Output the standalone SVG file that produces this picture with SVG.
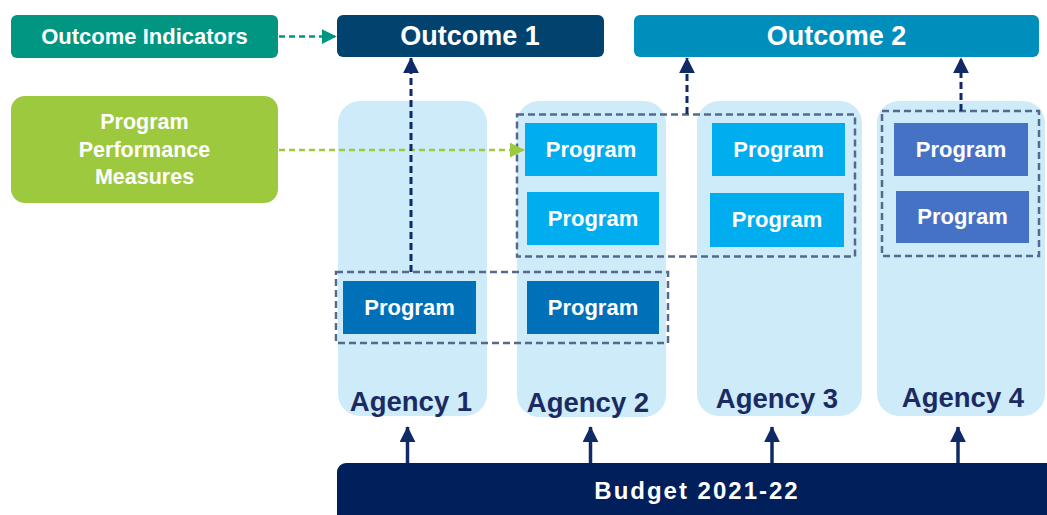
<svg xmlns="http://www.w3.org/2000/svg" width="1047" height="515" viewBox="0 0 1047 515">
<defs>
<style>
text{font-family:"Liberation Sans",Arial,sans-serif;font-weight:bold;text-anchor:middle}
.w{fill:#ffffff}
.col{fill:#cdebf8}
.ag{fill:#1b2a63;font-size:27.5px}
.pr{font-size:22px;fill:#ffffff}
.pa{fill:#00adee}
.pb{fill:#0071b9}
.pc{fill:#4672c6}
.grp{fill:none;stroke:#56698c;stroke-width:2.5;stroke-dasharray:7 4}
.dn{fill:none;stroke:#0f2a66;stroke-width:3;stroke-dasharray:7 4}
.sn{fill:none;stroke:#0f2a66;stroke-width:3.5}
</style>
<marker id="hNavy" viewBox="0 0 10 10" refX="9.5" refY="5" markerUnits="userSpaceOnUse" markerWidth="16" markerHeight="16" orient="auto"><path d="M0,0 L10,5 L0,10 z" fill="#0f2a66"/></marker>
<marker id="hTeal" viewBox="0 0 10 10" refX="9.5" refY="5" markerUnits="userSpaceOnUse" markerWidth="15" markerHeight="15" orient="auto"><path d="M0,0 L10,5 L0,10 z" fill="#009681"/></marker>
<marker id="hGreen" viewBox="0 0 10 10" refX="9.5" refY="5" markerUnits="userSpaceOnUse" markerWidth="15" markerHeight="15" orient="auto"><path d="M0,0 L10,5 L0,10 z" fill="#9dc93e"/></marker>
</defs>
<rect width="1047" height="515" fill="#ffffff"/>

<g id="agency1"><rect class="col" x="338" y="101" width="149" height="315" rx="22"/><text class="ag" x="411" y="411">Agency 1</text></g>
<g id="agency2"><rect class="col" x="517" y="101" width="149" height="316" rx="22"/><text class="ag" x="588" y="412">Agency 2</text></g>
<g id="agency3"><rect class="col" x="697" y="101" width="165" height="315" rx="22"/><text class="ag" x="777" y="408">Agency 3</text></g>
<g id="agency4"><rect class="col" x="877" y="101" width="168" height="315" rx="22"/><text class="ag" x="963" y="407">Agency 4</text></g>

<g id="outcome-indicators"><rect x="11" y="15" width="267" height="43" rx="6" fill="#009681"/><text class="w" x="144.5" y="44" font-size="22">Outcome Indicators</text></g>
<g id="outcome1"><rect x="337" y="15" width="267" height="42" rx="6" fill="#01426f"/><text class="w" x="470" y="45" font-size="27">Outcome 1</text></g>
<g id="outcome2"><rect x="634" y="15" width="405" height="42" rx="6" fill="#008fbd"/><text class="w" x="836.5" y="45" font-size="27">Outcome 2</text></g>
<g id="program-performance-measures"><rect x="11" y="96" width="267" height="107" rx="14" fill="#9dc93e"/><text class="w" font-size="21.5"><tspan x="144.5" y="129">Program</tspan><tspan x="144.5" y="157">Performance</tspan><tspan x="144.5" y="184">Measures</tspan></text></g>

<g id="prog-a2-1"><rect class="pa" x="525" y="123" width="132" height="53"/><text class="pr" x="591" y="157">Program</text></g>
<g id="prog-a2-2"><rect class="pa" x="527" y="192" width="132" height="53"/><text class="pr" x="593" y="226">Program</text></g>
<g id="prog-a3-1"><rect class="pa" x="712" y="123" width="133" height="53"/><text class="pr" x="778.5" y="157">Program</text></g>
<g id="prog-a3-2"><rect class="pa" x="710" y="193" width="134" height="54"/><text class="pr" x="777" y="227">Program</text></g>
<g id="prog-a4-1"><rect class="pc" x="894" y="123" width="134" height="53"/><text class="pr" x="961" y="157">Program</text></g>
<g id="prog-a4-2"><rect class="pc" x="896" y="191" width="133" height="52"/><text class="pr" x="962.5" y="224">Program</text></g>
<g id="prog-a1-3"><rect class="pb" x="343" y="281" width="133" height="53"/><text class="pr" x="409.5" y="315">Program</text></g>
<g id="prog-a2-3"><rect class="pb" x="527" y="281" width="132" height="53"/><text class="pr" x="593" y="315">Program</text></g>

<g id="group-outcome2-a"><rect class="grp" x="517" y="114.5" width="338" height="142"/></g>
<g id="group-outcome2-b"><rect class="grp" x="882" y="111" width="157" height="145"/></g>
<g id="group-outcome1"><rect class="grp" x="336" y="272" width="332" height="71"/></g>

<g id="budget"><rect x="337" y="463" width="720" height="70" rx="9" fill="#001f5b"/><text class="w" x="697" y="499" font-size="24" letter-spacing="2">Budget 2021-22</text></g>

<g id="connectors">
<line x1="279" y1="36.5" x2="336" y2="36.5" stroke="#009681" stroke-width="2.5" stroke-dasharray="6 4" marker-end="url(#hTeal)"/>
<line x1="279" y1="150" x2="524" y2="150" stroke="#9dc93e" stroke-width="2.5" stroke-dasharray="6 4" marker-end="url(#hGreen)"/>
<line class="dn" x1="411" y1="272" x2="411" y2="58" marker-end="url(#hNavy)"/>
<line class="dn" x1="687" y1="114" x2="687" y2="58" marker-end="url(#hNavy)"/>
<line class="dn" x1="961" y1="111" x2="961" y2="58" marker-end="url(#hNavy)"/>
<line class="sn" x1="407.5" y1="463" x2="407.5" y2="427" marker-end="url(#hNavy)"/>
<line class="sn" x1="590.5" y1="463" x2="590.5" y2="427" marker-end="url(#hNavy)"/>
<line class="sn" x1="772" y1="463" x2="772" y2="427" marker-end="url(#hNavy)"/>
<line class="sn" x1="958" y1="463" x2="958" y2="427" marker-end="url(#hNavy)"/>
</g>
</svg>
